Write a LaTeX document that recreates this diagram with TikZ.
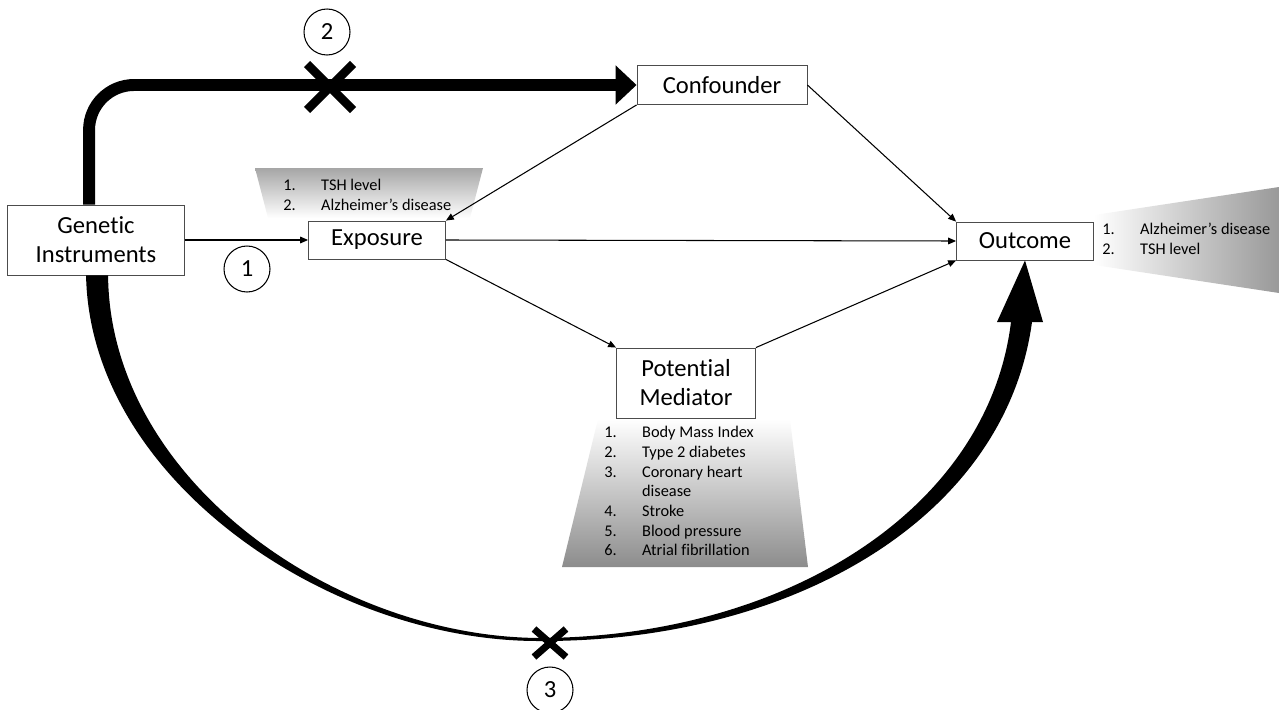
\documentclass[tikz,border=0pt]{standalone}
\usepackage{fontspec}
\setmainfont{Carlito}[Ligatures=NoCommon]
\usetikzlibrary{arrows.meta,positioning}

\newcommand{\numline}[2]{\makebox[21.5pt][l]{#1}#2}

\begin{document}
\begin{tikzpicture}[
			x=0.02cm, y=-0.02cm,
			>={Triangle[length=4.5pt,width=3.8pt]},
			box/.style={draw=black!70, line width=0.5pt, fill=white, align=center,
				inner sep=0pt, font={\fontsize{14}{16.5}\selectfont}},
			listtext/.style={anchor=north west, align=left, inner sep=0pt,
				font={\fontsize{9.3}{11.2}\selectfont}},
			numcircle/.style={draw, circle, minimum size=0.92cm, inner sep=0pt,
				line width=0.6pt, font={\fontsize{14}{16}\selectfont}},
			thin link/.style={->, line width=0.6pt},
			block/.style={line width=6.8pt},
			cross/.style={line width=5pt}
	]
	\useasboundingbox (0,0) rectangle (1279,710);

% shaded lists behind the boxes
	\shade[top color=black!35, bottom color=white] (255,168) -- (483,168) -- (470,218) -- (268,218) -- cycle;
	\shade[left color=white, right color=black!40] (1094,215) -- (1279,187) -- (1279,293) -- (1094,265) -- cycle;
	\shade[top color=white, bottom color=black!45] (598,419) -- (790,419) -- (808,567) -- (562,567) -- cycle;

% boxes
	\node[box, minimum width=3.54cm, minimum height=1.4cm] (gi) at (96,240) {Genetic\\Instruments};
	\node[box, minimum width=2.74cm, minimum height=0.76cm] (exp) at (377,240) {Exposure};
	\node[box, minimum width=3.4cm, minimum height=0.78cm] (conf) at (722,85) {Confounder};
	\node[box, minimum width=2.74cm, minimum height=0.76cm] (out) at (1025,241) {Outcome};
	\node[box, minimum width=2.78cm, minimum height=1.4cm] (med) at (686,383) {Potential\\Mediator};

% lists
	\node[listtext] (explist) at (283,179) {\numline{1.}{TSH level}\\\numline{2.}{Alzheimer’s disease}};
	\node[listtext] (outlist) at (1102,223) {\numline{1.}{Alzheimer’s disease}\\\numline{2.}{TSH level}};
	\node[listtext] (medlist) at (604,426) {\numline{1.}{Body Mass Index}\\\numline{2.}{Type 2 diabetes}\\
		\numline{3.}{Coronary heart}\\\numline{}{disease}\\\numline{4.}{Stroke}\\
		\numline{5.}{Blood pressure}\\\numline{6.}{Atrial fibrillation}};

% thin arrows
	\draw[thin link] (gi.east) -- (exp.west);
	\draw[thin link] (conf.south west) -- (exp.north east);
	\draw[thin link] (conf.east) -- (out.north west);
	\draw[thin link] (exp.east) -- (out.west);
	\draw[thin link] (exp.south east) -- (med.north west);
	\draw[thin link] (med.north east) -- (out.south west);

% thick path over the top
	\draw[block, -{Triangle[length=0.42cm,width=0.76cm]}, rounded corners=0.9cm]
		([xshift=1.64cm]gi.north west) |- (conf.west);
	\coordinate (x2) at (330,87);
	\draw[cross] (x2) ++(-23,-23) -- ++(46,46) (x2) ++(-23,23) -- ++(46,-46);

% tapered path underneath
	\fill ([xshift=1.58cm]gi.south west) .. controls (90,480) and (330,642) .. (540,641)
		.. controls (790,642) and (1005,520) .. (1032,322)
		-- (1043,322) -- (out.south) -- (997,322) -- (1011,322)
		.. controls (988,510) and (785,637) .. (540,638)
		.. controls (335,637) and (110,480) .. ([xshift=2.02cm]gi.south west) -- cycle;
	\coordinate (x3) at (550,643);
	\draw[cross, line width=4pt] (x3) ++(-16,-14) -- ++(32,28) (x3) ++(-16,14) -- ++(32,-28);

% numbered circles
	\node[numcircle] (c1) at (247,269) {1};
	\node[numcircle] (c2) at (327,32) {2};
	\node[numcircle] (c3) at (550,690) {3};
\end{tikzpicture}
\end{document}
